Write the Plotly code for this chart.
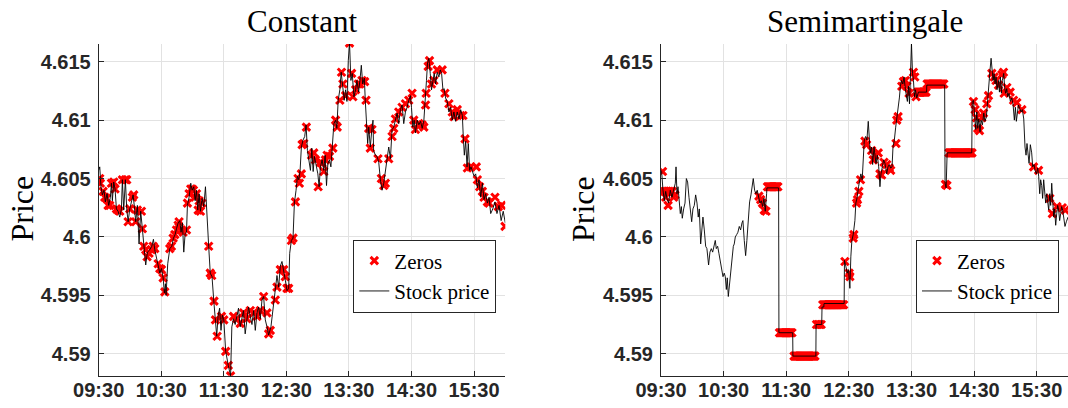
import plotly.graph_objects as go

# ---------------- data (minutes after 09:30, price) ----------------
left_t = [0, 1, 2.2, 3.5, 5.1, 6.4, 8, 9.6, 11.2, 12.2, 13.1, 14.4, 15.7, 17, 18.6, 20.2, 21.8, 22.7, 24, 25.6,
          26.9, 28.2, 29.8, 31.4, 33, 34.2, 35.5, 37.1, 38.7, 40.3, 41.9, 43.5, 45.1, 46.7, 49, 50.9, 52.5, 53.8,
          55.4, 57, 58.6, 60.2, 61.8, 63, 64, 64.6, 66.2, 68.2, 70.1, 71.7, 73.3, 74.6, 76.2, 77.8, 79, 80.3, 81.6,
          82.9, 84.2, 85.1, 86.7, 88.3, 89.6, 91.2, 92.5, 93.8, 95, 96.3, 97.6, 99.2, 100.8, 102.4, 103.7, 105.5,
          107, 108.7, 110.4, 111.8, 113.2, 114.5, 116, 117.3, 118.6, 120, 121.8, 124.3, 126.5, 127.7, 129.3, 130.9,
          132.5, 134.1, 135.7, 137.3, 138.9, 140.5, 142.1, 143.7, 145.4, 147, 148.6, 150.2, 151.8, 153.4, 155,
          156.6, 158.2, 159.8, 161.4, 163, 165.2, 166.8, 168.8, 169.9, 171, 172.6, 174.2, 175.8, 177.4, 179, 180.6,
          182.2, 183.2, 184.8, 186.4, 187.7, 189.3, 190.6, 191.9, 193.2, 194.4, 196, 197.6, 198.9, 200.2, 201.5,
          203.1, 204.4, 205.7, 206.9, 208.6, 210.2, 211.4, 212.7, 214.3, 215.9, 217.2, 218.5, 219.8, 221.4, 222.7,
          224, 225.6, 227.2, 228.4, 229.7, 231.3, 232.6, 233.9, 235.5, 236.8, 238.1, 239.4, 240.6, 241.9, 243.2,
          244.8, 246.4, 247.7, 249.3, 250.9, 251.9, 253.2, 254.8, 255.7, 256.7, 258, 259, 260.5, 262.1, 263.1,
          263.7, 265.4, 267, 268.6, 270.2, 271.8, 273.4, 275, 276.6, 278.2, 279.8, 281.4, 283, 284.6, 286.2, 287.8,
          289.4, 291, 292.6, 294.2, 295.8, 297.4, 299, 300, 301.3, 302.6, 303.8, 305.5, 307.1, 308.7, 310.3, 311.9,
          313.5, 314.4, 315.4, 316.7, 318, 319.2, 320.5, 321.8, 323.1, 324.7, 326.3, 327.6, 328.9, 330.2, 331.4,
          332.7, 334.3, 335.9, 337.5, 339.1, 340.7, 342.3, 343.9, 345.6, 347.2, 348.8, 349.7, 350.7, 352, 353.3,
          354.5, 355.8, 357.1, 358.4, 360, 361.6, 363.2, 364.8, 366.4, 368, 369.6, 371.2, 372.8, 374.4, 376, 378,
          380, 382, 384, 386, 388, 390]
left_p = [4.6057, 4.6060, 4.6043, 4.6036, 4.6040, 4.6030, 4.6037, 4.6027, 4.6034, 4.6046, 4.6031, 4.6047, 4.6041,
          4.6024, 4.6022, 4.6017, 4.6024, 4.6049, 4.6023, 4.6049, 4.6024, 4.6013, 4.6024, 4.6030, 4.6036, 4.6026,
          4.6013, 4.6027, 4.5994, 4.6022, 4.6007, 4.5992, 4.5976, 4.5987, 4.5989, 4.5992, 4.5998, 4.5989, 4.5983,
          4.5976, 4.5969, 4.5973, 4.5965, 4.5952, 4.5960, 4.5950, 4.5977, 4.5990, 4.5992, 4.5999, 4.6002, 4.6007,
          4.6012, 4.6014, 4.6004, 4.6012, 4.5987, 4.6003, 4.6004, 4.6027, 4.6034, 4.6046, 4.6040, 4.6043, 4.6031,
          4.6040, 4.6023, 4.6037, 4.6022, 4.6033, 4.6026, 4.6043, 4.6017, 4.5992, 4.5969, 4.5966, 4.5945, 4.5929,
          4.5915, 4.5932, 4.5939, 4.5920, 4.5933, 4.5929, 4.5902, 4.5890, 4.5881, 4.5923, 4.5930, 4.5925, 4.5932,
          4.5939, 4.5923, 4.5932, 4.5937, 4.5917, 4.5928, 4.5940, 4.5932, 4.5925, 4.5937, 4.5920, 4.5935, 4.5940,
          4.5930, 4.5946, 4.5949, 4.5929, 4.5923, 4.5916, 4.5923, 4.5935, 4.5946, 4.5957, 4.5967, 4.5957, 4.5975,
          4.5979, 4.5969, 4.5963, 4.5954, 4.5956, 4.5986, 4.5997, 4.5999, 4.6029, 4.6040, 4.6052, 4.6049, 4.6057,
          4.6077, 4.6083, 4.6086, 4.6096, 4.6074, 4.6066, 4.6057, 4.6076, 4.6056, 4.6069, 4.6062, 4.6054, 4.6043,
          4.6060, 4.6066, 4.6057, 4.6070, 4.6044, 4.6063, 4.6066, 4.6060, 4.6077, 4.6097, 4.6100, 4.6093, 4.6117,
          4.6126, 4.6141, 4.6131, 4.6117, 4.6126, 4.6116, 4.6151, 4.6166, 4.6134, 4.6140, 4.6120, 4.6126, 4.6134,
          4.6124, 4.6137, 4.6147, 4.6131, 4.6136, 4.6117, 4.6097, 4.6080, 4.6094, 4.6077, 4.6093, 4.6100, 4.6074,
          4.6070, 4.6069, 4.6064, 4.6049, 4.6040, 4.6046, 4.6056, 4.6066, 4.6077, 4.6067, 4.6092, 4.6094, 4.6100,
          4.6106, 4.6097, 4.6109, 4.6113, 4.6097, 4.6107, 4.6111, 4.6117, 4.6121, 4.6111, 4.6094, 4.6100, 4.6089,
          4.6100, 4.6096, 4.6099, 4.6093, 4.6100, 4.6117, 4.6134, 4.6149, 4.6153, 4.6140, 4.6126, 4.6133, 4.6140,
          4.6131, 4.6141, 4.6137, 4.6143, 4.6140, 4.6126, 4.6127, 4.6119, 4.6116, 4.6107, 4.6111, 4.6100, 4.6107,
          4.6099, 4.6107, 4.6101, 4.6109, 4.6104, 4.6086, 4.6070, 4.6082, 4.6060, 4.6080, 4.6057, 4.6060, 4.6056,
          4.6052, 4.6054, 4.6042, 4.6049, 4.6034, 4.6046, 4.6032, 4.6037, 4.6029, 4.6034, 4.6020, 4.6024, 4.6030,
          4.6020, 4.6027, 4.6014, 4.6022, 4.6012]

left_zeros_t = [1.0, 1.6, 4.2, 5.8, 7.4, 9.0, 10.6, 12.2, 14.4, 15.7, 17.0, 18.6, 20.2, 22.7, 25.6, 26.9, 28.2,
                29.8, 32.3, 33.6, 35.5, 37.1, 41.0, 41.9, 43.2, 45.1, 46.4, 48.3, 50.6, 52.2, 53.8, 57.0, 58.6,
                60.2, 61.8, 63.4, 68.2, 69.8, 71.4, 73.0, 74.6, 76.2, 77.1, 79.4, 81.0, 84.2, 85.1, 86.7, 88.3,
                89.6, 90.9, 92.2, 93.8, 95.4, 96.3, 97.6, 98.9, 105.5, 107, 108.4, 110.6, 112.0, 113.6, 117.8,
                120.0, 121.8, 124.3, 126.5, 129.3, 132.5, 135.7, 138.9, 142.1, 145.4, 148.6, 151.8, 155.0, 158.2,
                161.4, 163.0, 164.6, 169.4, 171.0, 174.2, 177.4, 179.0, 180.6, 182.2, 184.8, 186.4, 188.7, 191.2,
                192.5, 194.4, 195.1, 196.7, 199.2, 204.1, 206.3, 207.9, 210.5, 212.7, 214.3, 215.9, 217.5, 219.1,
                221.4, 224.6, 227.2, 228.8, 231.3, 232.9, 234.2, 236.8, 240.6, 242.6, 243.8, 246.4, 249.0, 250.5,
                252.5, 255.1, 256.4, 259.0, 260.5, 262.1, 267.9, 271.1, 273.4, 275.0, 278.2, 281.4, 283.0, 284.6,
                287.8, 291.0, 294.2, 297.4, 300.6, 302.2, 303.8, 307.1, 310.3, 311.9, 313.5, 314.1, 316.0, 317.3,
                319.2, 321.5, 324.7, 329.5, 332.1, 335.9, 339.1, 340.7, 343.9, 347.2, 349.4, 351.4, 353.6, 356.8,
                362.2, 363.2, 365.4, 368.0, 369.6, 372.8, 374.4, 380.1, 383.3, 386.5, 389.7]
left_zeros_p = [4.6050, 4.6046, 4.6039, 4.6034, 4.6033, 4.6027, 4.6027, 4.6046, 4.6047, 4.6041, 4.6024, 4.6023,
                4.6022, 4.6049, 4.6049, 4.6049, 4.6013, 4.6024, 4.6034, 4.6036, 4.6013, 4.6023, 4.6022, 4.6007,
                4.5992, 4.5989, 4.5983, 4.5986, 4.5989, 4.5992, 4.5990, 4.5977, 4.5973, 4.5972, 4.5965, 4.5953,
                4.5990, 4.5992, 4.5999, 4.6002, 4.6006, 4.6010, 4.6013, 4.6006, 4.6004, 4.6006, 4.6029, 4.6037,
                4.6041, 4.6041, 4.6040, 4.6034, 4.6037, 4.6023, 4.6031, 4.6022, 4.6029, 4.5992, 4.5969, 4.5967,
                4.5945, 4.5929, 4.5915, 4.5932, 4.5929, 4.5902, 4.5890, 4.5881, 4.5932, 4.5930, 4.5926, 4.5935,
                4.5930, 4.5937, 4.5935, 4.5932, 4.5937, 4.5949, 4.5935, 4.5917, 4.5920, 4.5946, 4.5957, 4.5972,
                4.5972, 4.5966, 4.5956, 4.5956, 4.5997, 4.5999, 4.6030, 4.6050, 4.6046, 4.6054, 4.6079, 4.6080,
                4.6094, 4.6070, 4.6072, 4.6066, 4.6043, 4.6064, 4.6063, 4.6056, 4.6066, 4.6070, 4.6069, 4.6076,
                4.6100, 4.6094, 4.6117, 4.6141, 4.6131, 4.6121, 4.6166, 4.6140, 4.6120, 4.6126, 4.6131, 4.6131,
                4.6134, 4.6133, 4.6117, 4.6093, 4.6076, 4.6092, 4.6067, 4.6050, 4.6044, 4.6046, 4.6067, 4.6086,
                4.6093, 4.6101, 4.6107, 4.6111, 4.6114, 4.6117, 4.6123, 4.6100, 4.6092, 4.6097, 4.6096, 4.6094,
                4.6113, 4.6123, 4.6146, 4.6151, 4.6131, 4.6134, 4.6143, 4.6143, 4.6123, 4.6114, 4.6107, 4.6103,
                4.6109, 4.6104, 4.6104, 4.6084, 4.6059, 4.6060, 4.6060, 4.6049, 4.6043, 4.6039, 4.6034, 4.6030,
                4.6029, 4.6034, 4.6026, 4.6027, 4.6009]

right_t = [0, 0.6, 1.9, 3.2, 4.5, 5.7, 7.3, 8.9, 10.5, 12.1, 13.7, 14.4, 15.3, 16.3, 17.6, 18.5, 19.5, 20.4, 21.7,
           23, 24.3, 25.5, 26.8, 28.1, 29.4, 30.6, 31.9, 33.2, 34.5, 35.7, 36.7, 38, 38.9, 40.2, 41.5, 42.8, 44,
           45.6, 46.9, 48.2, 49.5, 50.7, 52, 53, 54.3, 55.5, 56.8, 58.4, 59.4, 60.6, 61.6, 62.6, 63.5, 64.5, 65.8,
           67, 68.3, 69.3, 70.2, 71.2, 72.5, 73.7, 75, 76.3, 77.6, 78.5, 79.8, 81.1, 82.3, 83.6, 84.9, 86.2, 87.1,
           88.4, 89.7, 90.9, 92.2, 93.5, 94.8, 96.1, 97.4, 98.6, 99.9, 101.2, 101.5, 112.7, 113, 126.2, 126.4,
           148.4, 148.6, 154, 154.3, 156, 156.2, 175.5, 175.8, 177.1, 178.4, 179.7, 181, 181.9, 182.9, 184.2,
           185.8, 186.7, 188, 189.3, 190.6, 191.5, 192.8, 193.8, 194.8, 196, 197.3, 198.6, 199.6, 200.5, 201.8,
           202.8, 204.1, 205, 206, 207.3, 208.6, 209.8, 210.8, 212.1, 213.4, 214.6, 216.3, 217.5, 218.8, 220.1,
           221.4, 222.3, 223.6, 224.9, 225.9, 227.2, 228.4, 229.4, 230.4, 231.7, 232.9, 234.2, 235.2, 236.1,
           237.1, 238.1, 239, 240, 241, 241.9, 242.9, 243.8, 245.1, 246.4, 246.7, 254.5, 254.7, 271.8, 272.2,
           273.2, 274.2, 297.8, 298.2, 299.4, 300.3, 301.6, 302.6, 303.5, 304.5, 305.7, 306.7, 308, 309.3, 310.5,
           311.8, 312.4, 313.4, 314.4, 315.3, 316.3, 317.2, 318.2, 319.2, 320.1, 321.1, 322, 323.3, 324.3, 325.2,
           326.2, 327.1, 328.4, 329.4, 330.3, 331.3, 332.2, 333.5, 334.8, 336.1, 337.3, 338.6, 339.6, 340.5,
           341.5, 342.5, 343.7, 345, 346.3, 347.6, 348.8, 349.8, 350.7, 351.7, 352.7, 353.9, 355.2, 356.2, 357.5,
           358.4, 359.7, 361, 361.9, 362.9, 363.8, 364.8, 365.7, 366.7, 367.7, 368.6, 369.6, 370.5, 371.5, 372.5,
           373.4, 374.4, 375.3, 376.3, 377.2, 378.2, 379.2, 380.1, 381.1, 382, 383, 383.9, 384.9, 386.2, 387.1,
           388.4, 390]
right_p = [4.6057, 4.6056, 4.6040, 4.6031, 4.6039, 4.6033, 4.6029, 4.6040, 4.6034, 4.6039, 4.6046, 4.6060, 4.6037,
           4.6043, 4.6023, 4.6020, 4.6026, 4.6016, 4.6024, 4.6029, 4.6050, 4.6047, 4.6034, 4.6023, 4.6013, 4.6024,
           4.6027, 4.6036, 4.6029, 4.6017, 4.6024, 4.5994, 4.6006, 4.6017, 4.6006, 4.5992, 4.5990, 4.5976, 4.5987,
           4.5990, 4.5987, 4.5992, 4.5997, 4.5990, 4.5992, 4.5986, 4.5979, 4.5972, 4.5966, 4.5969, 4.5966, 4.5955,
           4.5965, 4.5949, 4.5960, 4.5975, 4.5986, 4.5992, 4.5994, 4.6000, 4.6002, 4.6004, 4.6009, 4.6006, 4.6012,
           4.6014, 4.5997, 4.5984, 4.5997, 4.6017, 4.6030, 4.6036, 4.6043, 4.6050, 4.6040, 4.6037, 4.6040, 4.6034,
           4.6029, 4.6031, 4.6026, 4.6033, 4.6022, 4.6037, 4.6042, 4.6042, 4.5918, 4.5918, 4.5898, 4.5898, 4.5925,
           4.5925, 4.5940, 4.5940, 4.5943, 4.5943, 4.5980, 4.5975, 4.5969, 4.5972, 4.5956, 4.5983, 4.5997, 4.6002,
           4.6014, 4.6029, 4.6034, 4.6043, 4.6052, 4.6054, 4.6049, 4.6069, 4.6083, 4.6086, 4.6083, 4.6099, 4.6083,
           4.6072, 4.6077, 4.6062, 4.6077, 4.6069, 4.6063, 4.6070, 4.6060, 4.6043, 4.6054, 4.6060, 4.6066, 4.6063,
           4.6054, 4.6060, 4.6062, 4.6059, 4.6060, 4.6077, 4.6083, 4.6094, 4.6101, 4.6107, 4.6119, 4.6129, 4.6134,
           4.6131, 4.6137, 4.6126, 4.6120, 4.6116, 4.6129, 4.6114, 4.6137, 4.6166, 4.6140, 4.6134, 4.6120, 4.6126,
           4.6119, 4.6123, 4.6124, 4.6124, 4.6130, 4.6130, 4.6046, 4.6042, 4.6072, 4.6072, 4.6116, 4.6117, 4.6103,
           4.6092, 4.6107, 4.6093, 4.6101, 4.6090, 4.6100, 4.6096, 4.6106, 4.6099, 4.6103, 4.6111, 4.6119, 4.6134,
           4.6143, 4.6153, 4.6141, 4.6134, 4.6140, 4.6131, 4.6137, 4.6126, 4.6134, 4.6124, 4.6137, 4.6123, 4.6134,
           4.6140, 4.6127, 4.6123, 4.6127, 4.6120, 4.6123, 4.6116, 4.6119, 4.6114, 4.6100, 4.6111, 4.6099, 4.6106,
           4.6113, 4.6110, 4.6107, 4.6109, 4.6101, 4.6077, 4.6070, 4.6080, 4.6069, 4.6063, 4.6079, 4.6072, 4.6060,
           4.6062, 4.6057, 4.6054, 4.6059, 4.6052, 4.6037, 4.6049, 4.6044, 4.6033, 4.6049, 4.6040, 4.6029, 4.6037,
           4.6032, 4.6023, 4.6037, 4.6027, 4.6046, 4.6026, 4.6017, 4.6024, 4.6010, 4.6020, 4.6027, 4.6023, 4.6014,
           4.6020, 4.6026, 4.6023, 4.6014, 4.6009, 4.6013, 4.6017, 4.6011]

right_zeros_t = [1.5, 2.2, 3.8, 5.5, 7.2, 9.0, 10.8, 4.5, 6.8, 12.1, 13.4,
                 93.8, 95.5, 97.2, 98.9, 100.6,
                 102, 103, 104, 105, 106, 107, 108, 109, 110, 111, 112,
                 113.5, 114.5, 115.5, 116.5, 117.5, 118.5, 119.5, 120.5, 121.5, 122.5, 123.5, 124.5, 125.5,
                 127.5, 128.5, 129.5, 130.5, 131.5, 132.5, 133.5, 134.5, 135.5, 136.5, 137.5, 138.5, 139.5, 140.5,
                 141.5, 142.5, 143.5, 144.5, 145.5, 146.5, 147.5,
                 149, 150.5, 152, 153.5,
                 155, 156, 157, 158, 159, 160, 161, 162, 163, 164, 165, 166, 167, 168, 169, 170, 171, 172, 173,
                 174, 175,
                 176.2, 180.3, 181.0, 184.2, 184.8, 187.4, 188.3, 189.6, 191.2, 195.4, 197.0, 201.8, 203.4, 205.0,
                 208.2, 209.8, 211.4, 213.7, 216.3, 218.8, 220.1, 225.2, 225.9, 227.2, 230.7, 232.3, 234.2, 235.5,
                 237.7, 241.9, 243.2, 244.4,
                 246, 247, 248, 249, 250, 251, 252, 253, 254,
                 255, 256, 257, 258, 259, 260, 261, 262, 263, 264, 265, 266, 267, 268, 269, 270, 271,
                 272.6, 274.0,
                 276, 277, 278, 279, 280, 281, 282, 283, 284, 285, 286, 287, 288, 289, 290, 291, 292, 293, 294,
                 295, 296, 297, 298,
                 299.4, 301.0, 302.3, 303.5, 305.2, 307.4, 309.0, 312.2, 313.8, 317.0, 319.2, 321.0, 323.4, 326.6,
                 328.2, 328.8, 331.4, 334.6, 337.8, 341.0, 345.8, 357.0, 361.8, 372.6, 375.0, 379.4, 384.5, 387.4]
right_zeros_p = [4.6056, 4.6039, 4.6039, 4.6039, 4.6039, 4.6039, 4.6039, 4.6034, 4.6027, 4.6034, 4.6036,
                 4.6035, 4.6032, 4.6029, 4.6023, 4.6022,
                 4.6043, 4.6043, 4.6043, 4.6043, 4.6043, 4.6043, 4.6043, 4.6043, 4.6043, 4.6043, 4.6043,
                 4.5918, 4.5918, 4.5918, 4.5918, 4.5918, 4.5918, 4.5918, 4.5918, 4.5918, 4.5918, 4.5918, 4.5918,
                 4.5918,
                 4.5898, 4.5898, 4.5898, 4.5898, 4.5898, 4.5898, 4.5898, 4.5898, 4.5898, 4.5898, 4.5898, 4.5898,
                 4.5898, 4.5898, 4.5898, 4.5898, 4.5898, 4.5898, 4.5898, 4.5898, 4.5898,
                 4.5925, 4.5925, 4.5925, 4.5925,
                 4.5942, 4.5942, 4.5942, 4.5942, 4.5942, 4.5942, 4.5942, 4.5942, 4.5942, 4.5942, 4.5942, 4.5942,
                 4.5942, 4.5942, 4.5942, 4.5942, 4.5942, 4.5942, 4.5942, 4.5942, 4.5942,
                 4.5979, 4.5969, 4.5966, 4.5999, 4.6002, 4.6029, 4.6032, 4.6039, 4.6049, 4.6082, 4.6079, 4.6074,
                 4.6066, 4.6070, 4.6072, 4.6054, 4.6053, 4.6064, 4.6062, 4.6059, 4.6057, 4.6080, 4.6100, 4.6103,
                 4.6129, 4.6133, 4.6134, 4.6129, 4.6123, 4.6141, 4.6137, 4.6120,
                 4.6124, 4.6124, 4.6124, 4.6124, 4.6124, 4.6124, 4.6124, 4.6124, 4.6124,
                 4.6131, 4.6131, 4.6131, 4.6131, 4.6131, 4.6131, 4.6131, 4.6131, 4.6131, 4.6131, 4.6131, 4.6131,
                 4.6131, 4.6131, 4.6131, 4.6131, 4.6131,
                 4.6045, 4.6044,
                 4.6072, 4.6072, 4.6072, 4.6072, 4.6072, 4.6072, 4.6072, 4.6072, 4.6072, 4.6072, 4.6072, 4.6072,
                 4.6072, 4.6072, 4.6072, 4.6072, 4.6072, 4.6072, 4.6072, 4.6072, 4.6072, 4.6072, 4.6072,
                 4.6116, 4.6109, 4.6102, 4.6093, 4.6091, 4.6102, 4.6106, 4.6114, 4.6121, 4.6140, 4.6137, 4.6134,
                 4.6130, 4.6139, 4.6141, 4.6123, 4.6128, 4.6124, 4.6117, 4.6115, 4.6109, 4.6060, 4.6057, 4.6033,
                 4.6020, 4.6026, 4.6025, 4.6023]

x_tick_vals = [0, 60, 120, 180, 240, 300, 360]
x_tick_text = ["09:30", "10:30", "11:30", "12:30", "13:30", "14:30", "15:30"]
y_tick_vals = [4.59, 4.595, 4.6, 4.605, 4.61, 4.615]
y_tick_text = ["4.59", "4.595", "4.6", "4.605", "4.61", "4.615"]
panel_titles = ["Constant", "Semimartingale"]
y_label = "Price"
legend_names = ["Zeros", "Stock price"]

# ---------------- figure ----------------
W, H = 1068, 408
SERIF = "Liberation Serif, Times New Roman, serif"
SANS = "Liberation Sans, Arial, sans-serif"
AX_COL = "#262626"

fig = go.Figure()

def add_panel(zt, zp, lt, lp, xa, ya, leg):
    fig.add_trace(go.Scatter(x=zt, y=zp, mode="markers", name=legend_names[0], xaxis=xa, yaxis=ya,
                             legend=leg,
                             marker=dict(symbol="x-thin", size=7.5, color="#ff0000",
                                         line=dict(color="#ff0000", width=3))))
    fig.add_trace(go.Scatter(x=lt, y=lp, mode="lines", name=legend_names[1], xaxis=xa, yaxis=ya,
                             legend=leg, line=dict(color="black", width=0.9)))

add_panel(left_zeros_t, left_zeros_p, left_t, left_p, "x", "y", "legend")
add_panel(right_zeros_t, right_zeros_p, right_t, right_p, "x2", "y2", "legend2")

tick_font = dict(family=SANS, size=20, color=AX_COL, weight="bold")
xaxis_common = dict(range=[0, 390], tickvals=x_tick_vals, ticktext=x_tick_text,
                    showgrid=True, gridcolor="#e2e2e2", gridwidth=1, zeroline=False,
                    showline=True, linecolor=AX_COL, linewidth=1,
                    ticks="inside", ticklen=5, tickcolor=AX_COL,
                    tickfont=tick_font, ticklabelstandoff=-4, automargin=False)
yaxis_common = dict(range=[4.58812, 4.61652], tickvals=y_tick_vals, ticktext=y_tick_text,
                    showgrid=True, gridcolor="#e2e2e2", gridwidth=1, zeroline=False,
                    showline=True, linecolor=AX_COL, linewidth=1,
                    ticks="inside", ticklen=5, tickcolor=AX_COL,
                    tickfont=tick_font, ticklabelstandoff=3, automargin=False)

legend_common = dict(xanchor="right", y=1 - 276 / H, yanchor="middle",
                     bgcolor="white", bordercolor=AX_COL, borderwidth=1,
                     font=dict(family=SERIF, size=21, color="black"), itemwidth=30, tracegroupgap=0)

ydom = [1 - 375.7 / H, 1 - 44 / H]
fig.update_layout(
    width=W, height=H,
    margin=dict(l=0, r=0, t=0, b=0),
    paper_bgcolor="white", plot_bgcolor="white",
    showlegend=True,
    xaxis=dict(domain=[98.7 / W, 505.3 / W], anchor="y", **xaxis_common),
    yaxis=dict(domain=ydom, anchor="x", **yaxis_common),
    xaxis2=dict(domain=[661 / W, 1.0], anchor="y2", **xaxis_common),
    yaxis2=dict(domain=ydom, anchor="x2", **yaxis_common),
    legend=dict(x=496.3 / W, **legend_common),
    legend2=dict(x=1059 / W, **legend_common),
)

for cx, txt in zip([302 / W, 864.5 / W], panel_titles):
    fig.add_annotation(text=txt, x=cx, y=1 - 21 / H, xref="paper", yref="paper",
                       xanchor="center", yanchor="middle", showarrow=False,
                       font=dict(family=SERIF, size=31, color="black"))
for cx in [21.5 / W, 583 / W]:
    fig.add_annotation(text=y_label, x=cx, y=1 - 209 / H, xref="paper", yref="paper",
                       xanchor="center", yanchor="middle", showarrow=False, textangle=-90,
                       font=dict(family=SERIF, size=32, color="black"))

fig.write_html("out.html", config={"displayModeBar": False},
               post_script="document.body.style.margin='0px';document.body.style.overflow='hidden';")
